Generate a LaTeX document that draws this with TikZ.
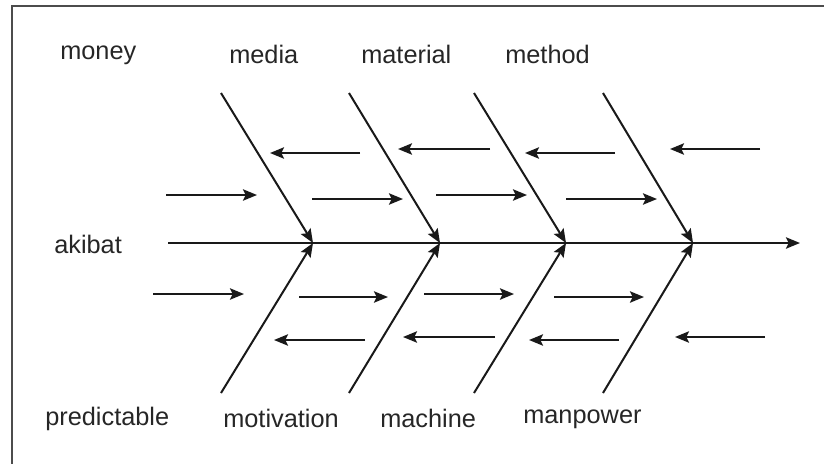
\documentclass[tikz,border=0pt]{standalone}
\usepackage{fontspec}
\setmainfont{Liberation Sans}
\usetikzlibrary{arrows.meta}
\begin{document}
\begin{tikzpicture}[x=0.75pt,y=-0.75pt,
  tip/.style={-{Stealth[length=10.5pt,width=8.5pt,inset=2pt]}},
  bone/.style={line width=1.5pt, draw=black!90, tip},
  cause/.style={line width=1.5pt, draw=black!90, tip},
  lbl/.style={anchor=base west, inner sep=0pt, text=black!85,
              font=\fontsize{19}{22}\selectfont},
  framing/.style={line width=1.5pt, draw=black!70}]
  \useasboundingbox (0,0) rectangle (824,464);

  % open frame: top and left edges
  \coordinate (fc) at (12,6);
  \coordinate (fr) at (824,6);
  \coordinate (fb) at (12,464);
  \draw[framing] (fr) -- (fc) -- (fb);

  % spine and its joints
  \coordinate (tail) at (168,243);
  \coordinate (head) at (800,243);
  \foreach \i/\x in {1/313,2/440,3/566,4/693}
    \coordinate (j\i) at (\x,243);
  \draw[bone] (tail) -- (head);

  % main bones, above and below the spine
  \foreach \i/\x in {1/221,2/349,3/474,4/603}{
    \coordinate (u\i) at (\x,93);
    \coordinate (d\i) at (\x,393);
    \draw[bone] (u\i) -- (j\i);
    \draw[bone] (d\i) -- (j\i);
  }

  % small cause arrows: start x / end x / y
  \foreach \n/\a/\b/\y in {
      a1/360/270/153, a2/490/398/149, a3/615/525/153, a4/760/670/149,
      b1/166/257/195, b2/312/403/199, b3/436/527/195, b4/566/657/199,
      c1/153/244/294, c2/299/388/297, c3/424/514/294, c4/554/644/297,
      e1/365/274/340, e2/495/403/337, e3/619/529/340, e4/765/675/337}{
    \coordinate (\n s) at (\a,\y);
    \coordinate (\n t) at (\b,\y);
    \draw[cause] (\n s) -- (\n t);
  }

  % labels
  \node[lbl] (money)       at (60,59)   {money};
  \node[lbl] (media)       at (229,63)  {media};
  \node[lbl] (material)    at (361,63)  {material};
  \node[lbl] (method)      at (505,63)  {method};
  \node[lbl] (akibat)      at (54,253)  {akibat};
  \node[lbl] (predictable) at (45,425)  {predictable};
  \node[lbl] (motivation)  at (223,427) {motivation};
  \node[lbl] (machine)     at (380,427) {machine};
  \node[lbl] (manpower)    at (523,423) {manpower};
\end{tikzpicture}
\end{document}
